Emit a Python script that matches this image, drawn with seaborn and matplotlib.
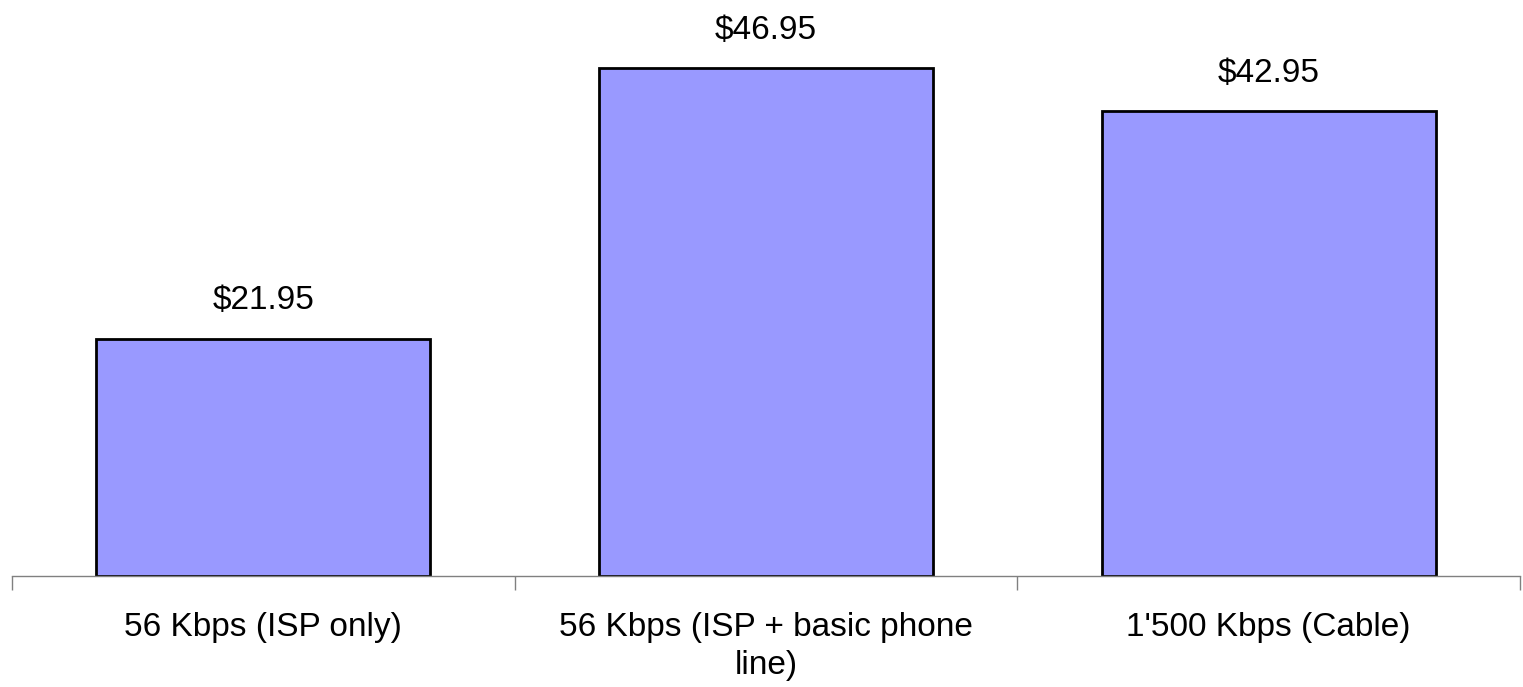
#!/usr/bin/env python3

import matplotlib
matplotlib.use("Agg")
import matplotlib.pylab as plt
import pandas as pd
import seaborn as sns

# Monthly price per connection type
categories = [
    "56 Kbps (ISP only)",
    "56 Kbps (ISP + basic phone\nline)",
    "1'500 Kbps (Cable)",
]
prices = [21.95, 46.95, 42.95]

sns.set_theme(style="white")
plt.rcParams["font.family"] = ["Liberation Sans", "DejaVu Sans"]

df = pd.DataFrame({"category": categories, "price": prices})

fig = plt.figure(figsize=(15.23, 6.87), dpi=100)
ax = fig.add_axes([12 / 1523, 111 / 687, 1508 / 1523, 541 / 687])

sns.barplot(
    df,
    x="category",
    y="price",
    ax=ax,
    color="#9999ff",
    edgecolor="black",
    linewidth=2,
    width=0.665,
    saturation=1,
)

ax.bar_label(
    ax.containers[0],
    labels=[f"${v:.2f}" for v in prices],
    padding=16,
    fontsize=24,
    color="black",
    clip_on=False,
)

ax.set_ylim(0, 50)
ax.set_xlim(-0.5, len(categories) - 0.5)

# tick marks sit between the categories, labels sit in the middle
ax.set_xticks([i - 0.5 for i in range(len(categories) + 1)])
ax.set_xticklabels([])
ax.set_xticks(range(len(categories)), minor=True)
ax.set_xticklabels(categories, minor=True, fontsize=24, color="black",
                   linespacing=1.3)
ax.tick_params(axis="x", which="major", direction="out", length=10, width=1,
               color="#808080", bottom=True)
ax.tick_params(axis="x", which="minor", length=0, pad=26)

ax.set_yticks([])
ax.set_xlabel("")
ax.set_ylabel("")
for side in ["top", "left", "right"]:
    ax.spines[side].set_visible(False)
ax.spines["bottom"].set_color("#808080")
ax.spines["bottom"].set_linewidth(1)

plt.savefig("out.png", dpi=100)
